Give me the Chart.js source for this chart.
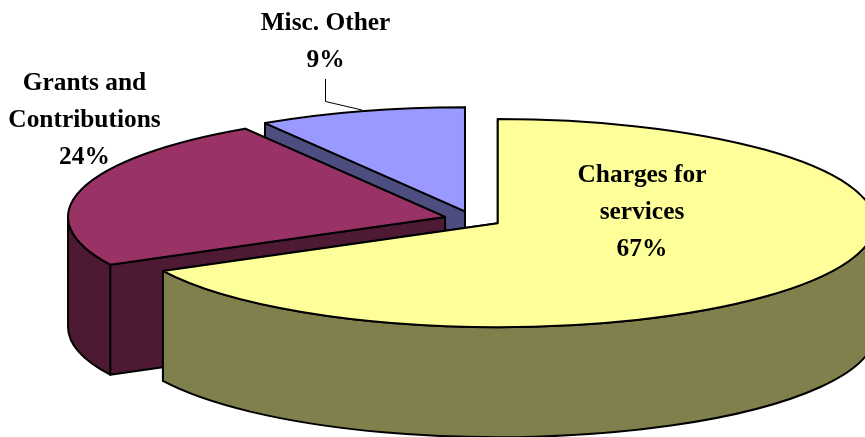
<!DOCTYPE html>
<html>
<head>
<meta charset="utf-8">
<style>html,body{margin:0;padding:0;background:#fff;overflow:hidden}canvas{display:block}</style>
<script src="https://cdn.jsdelivr.net/npm/chart.js@4"></script>
</head>
<body>
<canvas id="c" width="865" height="437"></canvas>
<script>
const categories = ['Charges for services', 'Grants and Contributions', 'Misc. Other'];
const values = [67.4, 23.7, 8.9];
const labelLines = [['Charges for', 'services'], ['Grants and', 'Contributions'], ['Misc. Other']];
const topColors = ['#FFFF99', '#993366', '#9999FF'];
const sideColors = ['#80804D', '#4D1933', '#4D4D80'];

const TILT = 0.276, DEPTH = 110, EXPLODE = 29, LINE = 2;
const labelAnchors = [[642, 182], [84.5, 90], [325.5, 30]];
const LINE_GAP = 36.8;

function geom(arc) {
  const mid = (arc.startAngle + arc.endAngle) / 2;
  return {
    cx: arc.x + Math.cos(mid) * EXPLODE,
    cy: arc.y + Math.sin(mid) * EXPLODE * TILT,
    r: arc.outerRadius, a0: arc.startAngle, a1: arc.endAngle
  };
}
function finish(ctx, fill) {
  ctx.closePath();
  ctx.fillStyle = fill;
  ctx.fill();
  ctx.lineWidth = LINE;
  ctx.lineJoin = 'round';
  ctx.strokeStyle = '#000';
  ctx.stroke();
}
function cutFace(ctx, g, a, fill) {
  const px = g.cx + g.r * Math.cos(a), py = g.cy + g.r * TILT * Math.sin(a);
  ctx.beginPath();
  ctx.moveTo(g.cx, g.cy);
  ctx.lineTo(px, py);
  ctx.lineTo(px, py + DEPTH);
  ctx.lineTo(g.cx, g.cy + DEPTH);
  finish(ctx, fill);
}
function outerWall(ctx, g, fill) {
  const from = Math.max(g.a0, 0), to = Math.min(g.a1, Math.PI);
  if (to <= from) return;
  ctx.beginPath();
  ctx.ellipse(g.cx, g.cy, g.r, g.r * TILT, 0, from, to);
  ctx.ellipse(g.cx, g.cy + DEPTH, g.r, g.r * TILT, 0, to, from, true);
  finish(ctx, fill);
}
const pie3d = {
  id: 'pie3d',
  beforeDatasetDraw(chart, args) {
    const ctx = chart.ctx;
    const arcs = args.meta.data;
    for (let i = arcs.length - 1; i >= 0; i--) {
      const arc = arcs[i], g = geom(arc);
      cutFace(ctx, g, g.a1, sideColors[i]);
      cutFace(ctx, g, g.a0, sideColors[i]);
      outerWall(ctx, g, sideColors[i]);
      ctx.save();
      ctx.translate(g.cx, g.cy);
      ctx.scale(1, TILT);
      ctx.translate(-arc.x, -arc.y);
      arc.draw(ctx);
      ctx.restore();
      ctx.beginPath();
      ctx.moveTo(g.cx, g.cy);
      ctx.ellipse(g.cx, g.cy, g.r, g.r * TILT, 0, g.a0, g.a1);
      ctx.closePath();
      ctx.lineWidth = LINE;
      ctx.lineJoin = 'round';
      ctx.strokeStyle = '#000';
      ctx.stroke();
    }
    return false;
  },
  afterDatasetsDraw(chart) {
    const ctx = chart.ctx;
    ctx.save();
    ctx.strokeStyle = '#000';
    ctx.lineWidth = 1;
    ctx.beginPath();
    ctx.moveTo(325.5, 79);
    ctx.lineTo(325.5, 101.5);
    ctx.lineTo(362, 110);
    ctx.stroke();
    ctx.fillStyle = '#000';
    ctx.font = 'bold 25.4px "Liberation Serif"';
    ctx.textAlign = 'center';
    ctx.textBaseline = 'alphabetic';
    values.forEach((v, i) => {
      const [x, y] = labelAnchors[i];
      const lines = labelLines[i].concat(Math.round(v) + '%');
      lines.forEach((t, j) => ctx.fillText(t, x, y + j * LINE_GAP));
    });
    ctx.restore();
  }
};
new Chart(document.getElementById('c'), {
  type: 'pie',
  data: {
    labels: categories,
    datasets: [{ data: values, backgroundColor: topColors, borderWidth: 0, hoverOffset: 0 }]
  },
  options: {
    responsive: false,
    animation: false,
    radius: 377,
    layout: { padding: { left: 81, top: 1 } },
    events: [],
    plugins: { legend: { display: false }, tooltip: { enabled: false } }
  },
  plugins: [pie3d]
});
</script>
</body>
</html>
